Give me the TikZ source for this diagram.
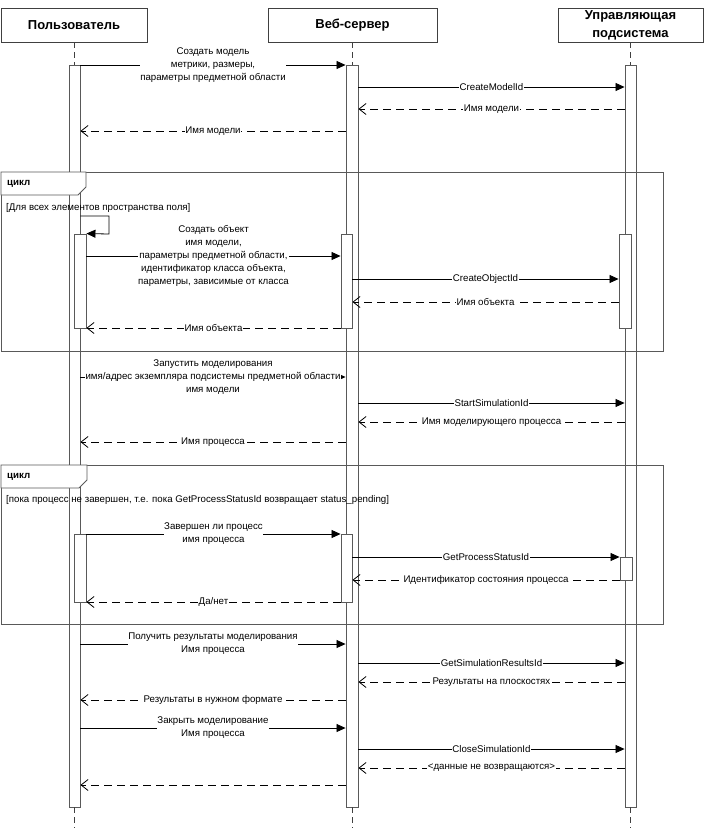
\documentclass[tikz,border=0pt]{standalone}
\usepackage{fontspec}
\setmainfont{Liberation Sans}
\usetikzlibrary{arrows.meta}
\begin{document}
\begin{tikzpicture}[x=1pt,y=-1pt,
  every node/.style={font=\fontsize{9.7}{13}\selectfont},
  head/.style={draw=black!75, line width=0.9pt, fill=white, minimum height=34pt, inner sep=0pt, font=\fontsize{13}{18}\selectfont\bfseries, align=center},
  bar/.style={draw=black!65, fill=white, line width=0.9pt, inner sep=0pt},
  life/.style={draw=black!75, dash pattern=on 6pt off 4pt, line width=0.8pt},
  msg/.style={draw=black, line width=0.8pt, -{Triangle[length=9pt,width=8pt]}},
  ret/.style={draw=black, line width=0.8pt, dash pattern=on 8pt off 5pt, -{Straight Barb[length=7pt,width=11pt]}},
  lbl/.style={fill=white, inner sep=0.6pt, align=center},
  frm/.style={draw=black!65, line width=0.9pt},
  tabshape/.style={draw=black!65, fill=white, line width=0.9pt},
  tabtext/.style={font=\fontsize{9.7}{13}\selectfont\bfseries, anchor=west, inner sep=0pt},
  guard/.style={anchor=west, inner sep=0pt},
]
\useasboundingbox (0,0) rectangle (705,828);
\fill[white] (0,0) rectangle (705,828);

% headers
\node[head, minimum width=146pt] (uh) at (74,25) {Пользователь};
\node[head, minimum width=169pt] (wh) at (352.5,25) {Веб-сервер};
\node[head, minimum width=145pt] (ch) at (630.5,25) {Управляющая\\подсистема};

% long activation bars
\node[bar, minimum width=11pt, minimum height=742pt] (ubar) at (74.5,436) {};
\node[bar, minimum width=12pt, minimum height=742pt] (wbar) at (352,436) {};
\node[bar, minimum width=11pt, minimum height=742pt] (cbar) at (630.5,436) {};

% lifelines
\coordinate (uend) at (74.5,828);
\coordinate (wend) at (352,828);
\coordinate (cend) at (630.5,828);
\draw[life] (uh.south -| ubar.north) -- (ubar.north);
\draw[life] (wh.south -| wbar.north) -- (wbar.north);
\draw[life] (ch.south -| cbar.north) -- (cbar.north);
\draw[life] (ubar.south) -- (uend);
\draw[life] (wbar.south) -- (wend);
\draw[life] (cbar.south) -- (cend);

% top messages
\draw[msg] (ubar.east |- 0,65) -- (wbar.west |- 0,65)
  node[midway, lbl] {Создать модель\\метрики, размеры,\\параметры предметной области};
\draw[msg] (wbar.east |- 0,87) -- (cbar.west |- 0,87) node[midway, lbl] {CreateModelId};
\draw[ret] (cbar.west |- 0,109) -- (wbar.east |- 0,109) node[midway, lbl] {Имя модели};
\draw[ret] (wbar.west |- 0,131) -- (ubar.east |- 0,131) node[midway, lbl] {Имя модели};

% frame 1
\draw[frm] (1,172) rectangle (663,351);
\draw[tabshape] (1,172) -- (86,172) -- (86,187) -- (78,195) -- (1,195) -- cycle;
\node[tabtext] (t1) at (7,184) {цикл};
\node[guard] (g1) at (6,208) {[Для всех элементов пространства поля]};

\node[bar, minimum width=12pt, minimum height=94pt] (ui1) at (80,281) {};
\node[bar, minimum width=11pt, minimum height=94pt] (wi1) at (346.5,281) {};
\node[bar, minimum width=12pt, minimum height=94pt] (ci1) at (625,281) {};

\draw[msg] (ubar.east |- 0,216) -- (109,216) -- (109,234) -- (ui1.north east);
\draw[msg] (ui1.east |- 0,256) -- (wi1.west |- 0,256)
  node[midway, lbl] {Создать объект\\имя модели,\\параметры предметной области,\\идентификатор класса объекта,\\параметры, зависимые от класса};
\draw[msg] (wi1.east |- 0,279) -- (ci1.west |- 0,279) node[midway, lbl] {CreateObjectId};
\draw[ret] (ci1.west |- 0,302) -- (wi1.east |- 0,302) node[midway, lbl] {Имя объекта};
\draw[ret] (wi1.west |- 0,328) -- (ui1.east |- 0,328) node[midway, lbl] {Имя объекта};

% middle messages
\draw[msg] (ubar.east |- 0,377) -- (wbar.west |- 0,377)
  node[midway, lbl] {Запустить моделирования\\имя/адрес экземпляра подсистемы предметной области\\имя модели};
\draw[msg] (wbar.east |- 0,403) -- (cbar.west |- 0,403) node[midway, lbl] {StartSimulationId};
\draw[ret] (cbar.west |- 0,422) -- (wbar.east |- 0,422) node[midway, lbl] {Имя моделирующего процесса};
\draw[ret] (wbar.west |- 0,442) -- (ubar.east |- 0,442) node[midway, lbl] {Имя процесса};

% frame 2
\draw[frm] (1,465) rectangle (663,624);
\draw[tabshape] (1,465) -- (87,465) -- (87,480) -- (79,488) -- (1,488) -- cycle;
\node[tabtext] (t2) at (7,477) {цикл};
\node[guard] (g2) at (6,500) {[пока процесс не завершен, т.е. пока GetProcessStatusId возвращает status\_pending]};

\node[bar, minimum width=12pt, minimum height=68pt] (ui2) at (80,568) {};
\node[bar, minimum width=11pt, minimum height=68pt] (wi2) at (346.5,568) {};
\node[bar, minimum width=12pt, minimum height=23pt] (ci2) at (626,568.5) {};

\draw[msg] (ui2.east |- 0,534) -- (wi2.west |- 0,534)
  node[midway, lbl] {Завершен ли процесс\\имя процесса};
\draw[msg] (wi2.east |- 0,557) -- (ci2.west |- 0,557) node[midway, lbl] {GetProcessStatusId};
\draw[ret] (ci2.west |- 0,580) -- (wi2.east |- 0,580) node[midway, lbl] {Идентификатор состояния процесса};
\draw[ret] (wi2.west |- 0,602) -- (ui2.east |- 0,602) node[midway, lbl] {Да/нет};

% bottom messages
\draw[msg] (ubar.east |- 0,644) -- (wbar.west |- 0,644)
  node[midway, lbl] {Получить результаты моделирования\\Имя процесса};
\draw[msg] (wbar.east |- 0,663) -- (cbar.west |- 0,663) node[midway, lbl] {GetSimulationResultsId};
\draw[ret] (cbar.west |- 0,682) -- (wbar.east |- 0,682) node[midway, lbl] {Результаты на плоскостях};
\draw[ret] (wbar.west |- 0,700) -- (ubar.east |- 0,700) node[midway, lbl] {Результаты в нужном формате};
\draw[msg] (ubar.east |- 0,728) -- (wbar.west |- 0,728)
  node[midway, lbl] {Закрыть моделирование\\Имя процесса};
\draw[msg] (wbar.east |- 0,749) -- (cbar.west |- 0,749) node[midway, lbl] {CloseSimulationId};
\draw[ret] (cbar.west |- 0,768) -- (wbar.east |- 0,768) node[midway, lbl] {<данные не возвращаются>};
\draw[ret] (wbar.west |- 0,785) -- (ubar.east |- 0,785);
\end{tikzpicture}
\end{document}
